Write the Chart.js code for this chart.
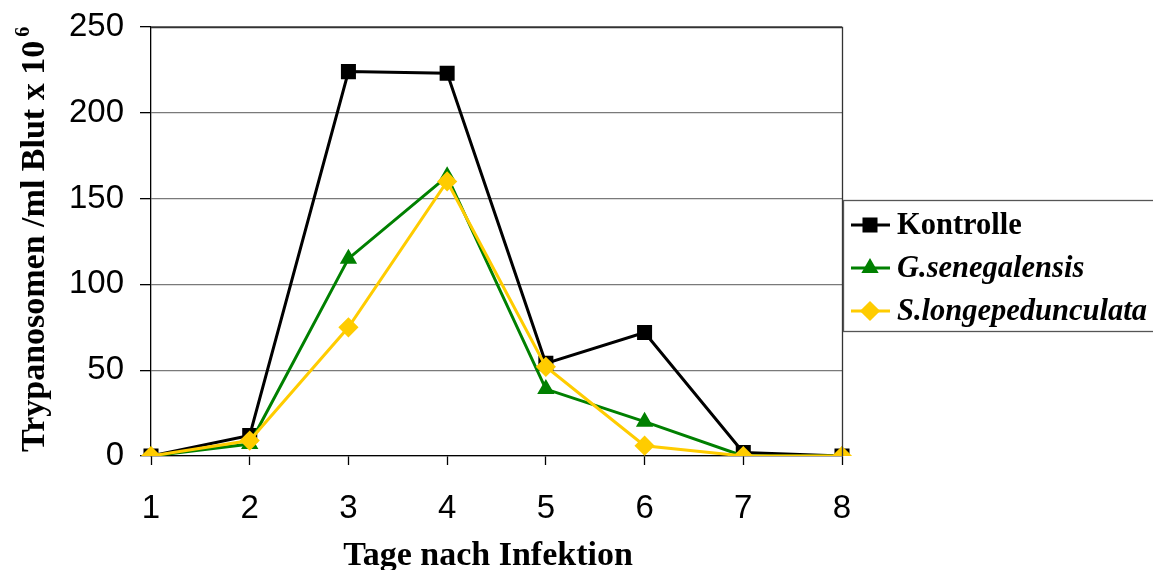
<!DOCTYPE html>
<html>
<head>
<meta charset="utf-8">
<script src="https://cdn.jsdelivr.net/npm/chart.js@4"></script>
<style>
  body { margin: 0; background: #fff; }
  #wrap { width: 1153px; height: 570px; }
</style>
</head>
<body>
<div id="wrap"><canvas id="trypChart" width="1153" height="570"></canvas></div>
<script>
// values (Trypanosomen /ml Blut x 10^6)
const days = ['1', '2', '3', '4', '5', '6', '7', '8'];
const kontrolle = [0, 12, 224, 223, 54, 72, 2, 0];
const senegalensis = [0, 7, 115, 163, 39, 20, 0, 0];
const longepedunculata = [0, 9, 75, 160, 52, 6, 0, 0];
const yTicks = [0, 50, 100, 150, 200, 250];

const xTitle = 'Tage nach Infektion';
const yTitle = 'Trypanosomen /ml Blut x 10';
const yTitleSup = '6';

const serif = '"Liberation Serif", "Times New Roman", serif';
const sans = '"Liberation Sans", Arial, sans-serif';

// titles, plot frame and the boxed legend on the right
const extrasPlugin = {
  id: 'extras',
  afterDraw(chart) {
    const ctx = chart.ctx;
    const area = chart.chartArea;
    ctx.save();

    // top + right frame of the plot area
    ctx.strokeStyle = '#333';
    ctx.lineWidth = 1.3;
    ctx.beginPath();
    ctx.moveTo(area.left, area.top + 0.5);
    ctx.lineTo(area.right + 0.5, area.top + 0.5);
    ctx.lineTo(area.right + 0.5, area.bottom);
    ctx.stroke();

    // x title
    ctx.fillStyle = '#000';
    ctx.font = 'bold 34px ' + serif;
    ctx.textAlign = 'center';
    ctx.textBaseline = 'alphabetic';
    ctx.fillText(xTitle, 488, 565);

    // y title, rotated, with superscript
    ctx.save();
    ctx.translate(44, 452);
    ctx.rotate(-Math.PI / 2);
    ctx.textAlign = 'left';
    ctx.font = 'bold 34px ' + serif;
    ctx.fillText(yTitle, 0, 0);
    const w = ctx.measureText(yTitle).width;
    ctx.font = 'bold 20px ' + serif;
    ctx.fillText(yTitleSup, w + 4, -15);
    ctx.restore();

    // legend box
    const lx = 843, ly = 200, lh = 131;
    ctx.fillStyle = '#fff';
    ctx.fillRect(lx, ly, 320, lh);
    ctx.strokeStyle = '#555';
    ctx.lineWidth = 1.3;
    ctx.strokeRect(lx + 0.5, ly + 0.5, 330, lh);

    const rows = [225, 268, 311];
    chart.data.datasets.forEach((ds, i) => {
      const y = rows[i];
      ctx.strokeStyle = ds.borderColor;
      ctx.lineWidth = 3;
      ctx.beginPath();
      ctx.moveTo(851, y);
      ctx.lineTo(890, y);
      ctx.stroke();
      ctx.fillStyle = ds.pointBackgroundColor;
      ctx.strokeStyle = ds.pointBorderColor;
      Chart.helpers.drawPoint(ctx, {
        pointStyle: ds.pointStyle,
        radius: ds.pointRadius,
        rotation: 0,
        borderWidth: 1
      }, 870, y);
      ctx.fillStyle = '#000';
      ctx.font = (ds.italicLabel ? 'italic ' : '') + 'bold 30.5px ' + serif;
      ctx.textAlign = 'left';
      ctx.textBaseline = 'middle';
      ctx.fillText(ds.label, 897, y + 1);
    });

    ctx.restore();
  }
};

const chart = new Chart(document.getElementById('trypChart'), {
  type: 'line',
  data: {
    labels: days,
    datasets: [
      {
        label: 'Kontrolle',
        data: kontrolle,
        borderColor: '#000000',
        backgroundColor: '#000000',
        pointBackgroundColor: '#000000',
        pointBorderColor: '#000000',
        pointStyle: 'rect',
        pointRadius: 8.5,
        borderWidth: 3,
        order: 3,
        italicLabel: false
      },
      {
        label: 'G.senegalensis',
        data: senegalensis,
        borderColor: '#008000',
        backgroundColor: '#008000',
        pointBackgroundColor: '#008000',
        pointBorderColor: '#008000',
        pointStyle: 'triangle',
        pointRadius: 7,
        borderWidth: 3,
        order: 2,
        italicLabel: true
      },
      {
        label: 'S.longepedunculata',
        data: longepedunculata,
        borderColor: '#FFCC00',
        backgroundColor: '#FFCC00',
        pointBackgroundColor: '#FFCC00',
        pointBorderColor: '#FFCC00',
        pointStyle: 'rectRot',
        pointRadius: 8,
        borderWidth: 3,
        order: 1,
        italicLabel: true
      }
    ]
  },
  options: {
    responsive: false,
    animation: false,
    layout: { padding: { top: 27, right: 311, left: 0, bottom: 0 } },
    elements: { line: { tension: 0 }, point: { borderWidth: 1, hoverRadius: 8 } },
    plugins: {
      legend: { display: false },
      tooltip: { enabled: false }
    },
    scales: {
      x: {
        offset: false,
        grid: {
          drawOnChartArea: false,
          drawTicks: true,
          tickLength: 9,
          tickColor: '#000',
          tickWidth: 1.3
        },
        border: { color: '#000', width: 1.3 },
        ticks: {
          color: '#000',
          font: { family: sans, size: 33 },
          padding: 24,
          maxRotation: 0,
          autoSkip: false
        },
        afterFit(scale) {
          scale.height = 114;
          scale.paddingLeft = 0;
          scale.paddingRight = 0;
        }
      },
      y: {
        min: 0,
        max: 250,
        afterBuildTicks(scale) { scale.ticks = yTicks.map(v => ({ value: v })); },
        grid: {
          color: '#7a7a7a',
          lineWidth: 1.3,
          tickLength: 11,
          tickColor: '#000',
          tickWidth: 1.3
        },
        border: { color: '#000', width: 1.3 },
        ticks: {
          color: '#000',
          font: { family: sans, size: 33 },
          padding: 16
        },
        afterFit(scale) {
          scale.width = 151;
          scale.paddingTop = 0;
          scale.paddingBottom = 0;
        }
      }
    }
  },
  plugins: [extrasPlugin]
});
</script>
</body>
</html>
